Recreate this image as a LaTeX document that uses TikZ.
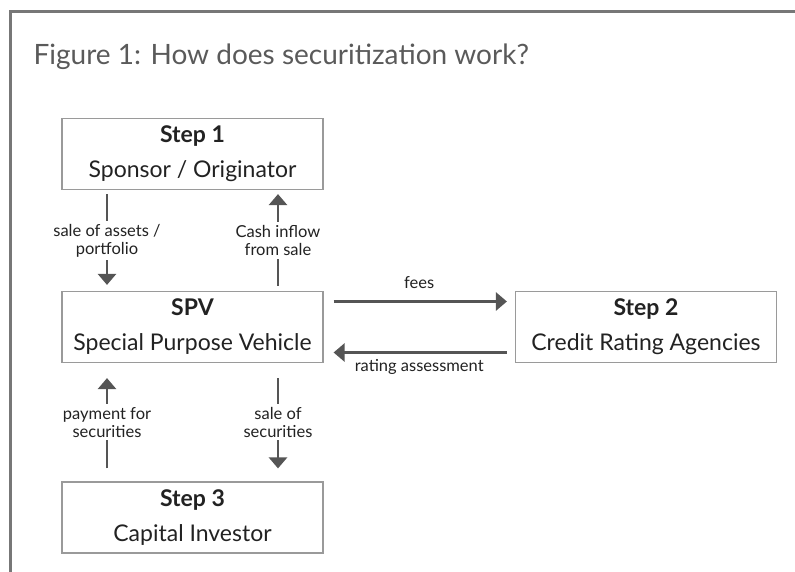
\documentclass[tikz,border=0pt]{standalone}
\usepackage{fontspec}
\setmainfont{Lato}
\newfontfamily\titlefont[FakeStretch=1.0]{Lato}
\usetikzlibrary{positioning,arrows.meta}

\definecolor{framegray}{HTML}{777777}
\definecolor{boxgray}{HTML}{9A9A9A}
\definecolor{arrowgray}{HTML}{555555}
\definecolor{titlegray}{HTML}{5A5A5A}
\definecolor{textdark}{HTML}{222222}

\begin{document}
\begin{tikzpicture}[x=1pt,y=-1pt,
	stepbox/.style={draw=boxgray, line width=1.2pt, minimum width=261pt, minimum height=71pt,
		inner sep=0pt, align=center, text=textdark, font=\fontsize{23}{35}\selectfont},
	flow/.style={draw=arrowgray, line width=2.8pt, -{Triangle[width=18pt,length=11pt]}},
	flowlabel/.style={fill=white, align=center, text=textdark, inner xsep=1pt, inner ysep=3pt,
		font=\fontsize{16.5}{18}\selectfont},
	flowtext/.style={text=textdark, inner sep=0pt, font=\fontsize{16.5}{18}\selectfont}]
		
		\useasboundingbox (0,0) rectangle (795,572);
		\draw[framegray, line width=3pt] (10,580) -- (10,12) -- (800,12);
		
		\node[anchor=base west, text=titlegray, font=\titlefont\fontsize{28}{30}\selectfont] (title) at (30,65) {Figure 1: How does securitization work?};
		
		\node[stepbox] (step1) at (192.5,154) {\textbf{Step 1}\\Sponsor / Originator};
		
		\node[stepbox] (spv) at (192.5,327) {\textbf{SPV}\\Special Purpose Vehicle};
		
		\node[stepbox] (step2) at (646,327) {\textbf{Step 2}\\Credit Rating Agencies};
		
		\node[stepbox] (step3) at (192.5,517.5) {\textbf{Step 3}\\Capital Investor};
		
		\draw[flow, shorten <=4pt, shorten >=6pt] ([xshift=-85.5pt]step1.south) -- node[flowlabel] {sale of assets /\\portfolio} ([xshift=-85.5pt]spv.north);
		\draw[flow, shorten <=5pt, shorten >=4pt] ([xshift=85.5pt]spv.north) -- node[flowlabel] {Cash inflow\\from sale} ([xshift=85.5pt]step1.south);
		\draw[flow, shorten <=13pt, shorten >=15pt] ([xshift=-85.5pt]step3.north) -- node[flowlabel] {payment for\\securities} ([xshift=-85.5pt]spv.south);
		\draw[flow, shorten <=15pt, shorten >=13pt] ([xshift=85.5pt]spv.south) -- node[flowlabel] {sale of\\securities} ([xshift=85.5pt]step3.north);
		
		\draw[flow, shorten <=10pt, shorten >=8pt] ([yshift=25.5pt]spv.east) -- node[flowtext, above=11pt] {fees} ([yshift=25.5pt]step2.west);
		\draw[flow, shorten <=8pt, shorten >=10pt] ([yshift=-25.5pt]step2.west) -- node[flowtext, below=6pt] {rating assessment} ([yshift=-25.5pt]spv.east);
		
\end{tikzpicture}
\end{document}
